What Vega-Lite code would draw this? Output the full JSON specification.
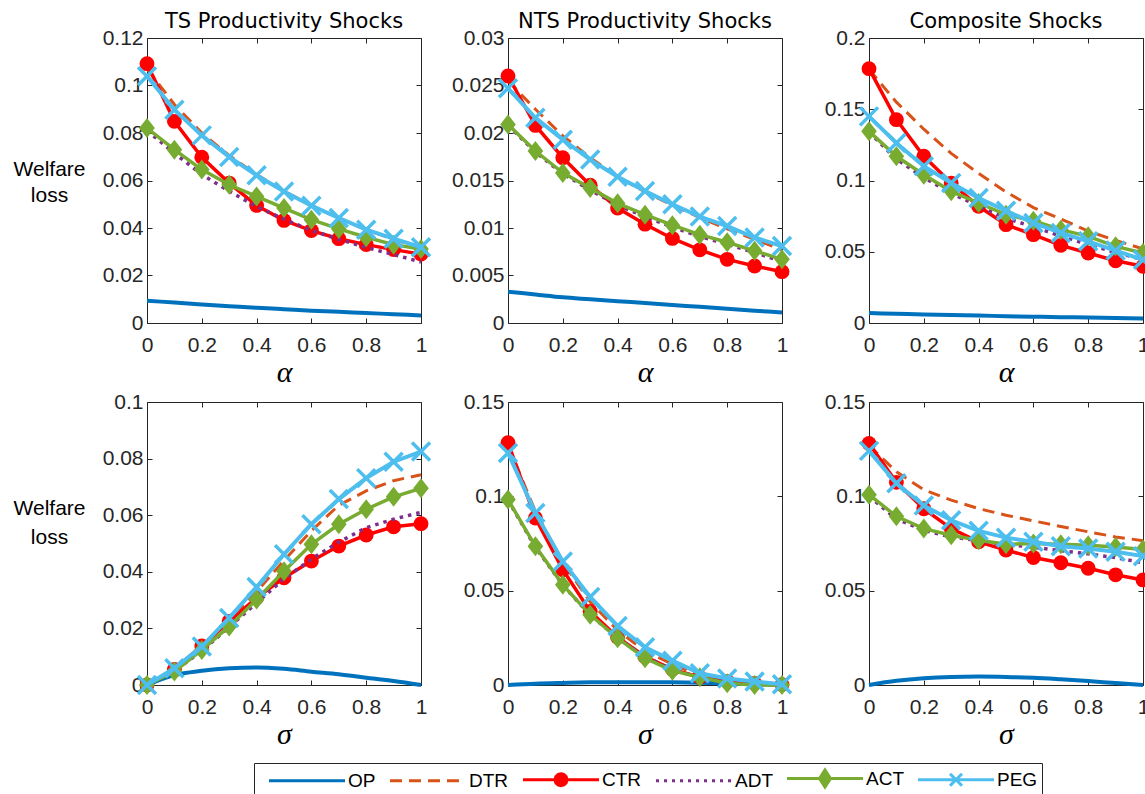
{
"$schema": "https://vega.github.io/schema/vega-lite/v6.json",
"background": "white",
"padding": {"left": 12, "top": 10, "right": 0, "bottom": 0},
"config": {
  "view": {"stroke": "#262626", "strokeWidth": 1},
  "axis": {"domain": false, "grid": false, "tickColor": "#262626", "tickSize": -5, "tickWidth": 1, "labelFont": "Liberation Sans", "labelFontSize": 21, "labelColor": "#262626", "labelFlush": false, "labelOverlap": false, "format": ".3~g", "titleFontWeight": "normal", "titleColor": "#000000"},
  "axisX": {"labelPadding": 16.5},
  "axisY": {"labelPadding": 9},
  "title": {"font": "DejaVu Sans", "fontSize": 21, "fontWeight": "normal", "color": "#000000", "baseline": "alphabetic", "offset": -5, "anchor": "middle", "frame": "group"},
  "legend": {"labelFont": "Liberation Sans", "labelFontSize": 19, "labelColor": "#000000", "symbolSize": 400, "symbolStrokeWidth": 3, "labelOffset": 67, "columnPadding": 3, "padding": 4, "strokeColor": "#262626", "fillColor": "white"}
},
"data": {"values": [
{"p":"p1","s":"OP","x":0,"y":0.0094},{"p":"p1","s":"OP","x":0.1,"y":0.0086},{"p":"p1","s":"OP","x":0.2,"y":0.0078},{"p":"p1","s":"OP","x":0.3,"y":0.0071},{"p":"p1","s":"OP","x":0.4,"y":0.0064},{"p":"p1","s":"OP","x":0.5,"y":0.0058},{"p":"p1","s":"OP","x":0.6,"y":0.0052},{"p":"p1","s":"OP","x":0.7,"y":0.0047},{"p":"p1","s":"OP","x":0.8,"y":0.0042},{"p":"p1","s":"OP","x":0.9,"y":0.0037},{"p":"p1","s":"OP","x":1,"y":0.0032},
{"p":"p1","s":"DTR","x":0,"y":0.107},{"p":"p1","s":"DTR","x":0.1,"y":0.092},{"p":"p1","s":"DTR","x":0.2,"y":0.08},{"p":"p1","s":"DTR","x":0.3,"y":0.0705},{"p":"p1","s":"DTR","x":0.4,"y":0.0625},{"p":"p1","s":"DTR","x":0.5,"y":0.0555},{"p":"p1","s":"DTR","x":0.6,"y":0.0495},{"p":"p1","s":"DTR","x":0.7,"y":0.0442},{"p":"p1","s":"DTR","x":0.8,"y":0.0393},{"p":"p1","s":"DTR","x":0.9,"y":0.0353},{"p":"p1","s":"DTR","x":1,"y":0.0316},
{"p":"p1","s":"CTR","x":0,"y":0.1092},{"p":"p1","s":"CTR","x":0.1,"y":0.0849},{"p":"p1","s":"CTR","x":0.2,"y":0.0698},{"p":"p1","s":"CTR","x":0.3,"y":0.0589},{"p":"p1","s":"CTR","x":0.4,"y":0.0495},{"p":"p1","s":"CTR","x":0.5,"y":0.0432},{"p":"p1","s":"CTR","x":0.6,"y":0.0389},{"p":"p1","s":"CTR","x":0.7,"y":0.0355},{"p":"p1","s":"CTR","x":0.8,"y":0.033},{"p":"p1","s":"CTR","x":0.9,"y":0.0309},{"p":"p1","s":"CTR","x":1,"y":0.029},
{"p":"p1","s":"ADT","x":0,"y":0.081},{"p":"p1","s":"ADT","x":0.1,"y":0.0715},{"p":"p1","s":"ADT","x":0.2,"y":0.0625},{"p":"p1","s":"ADT","x":0.3,"y":0.0555},{"p":"p1","s":"ADT","x":0.4,"y":0.049},{"p":"p1","s":"ADT","x":0.5,"y":0.0437},{"p":"p1","s":"ADT","x":0.6,"y":0.039},{"p":"p1","s":"ADT","x":0.7,"y":0.0352},{"p":"p1","s":"ADT","x":0.8,"y":0.0318},{"p":"p1","s":"ADT","x":0.9,"y":0.0288},{"p":"p1","s":"ADT","x":1,"y":0.0257},
{"p":"p1","s":"ACT","x":0,"y":0.0821},{"p":"p1","s":"ACT","x":0.1,"y":0.073},{"p":"p1","s":"ACT","x":0.2,"y":0.0646},{"p":"p1","s":"ACT","x":0.3,"y":0.0582},{"p":"p1","s":"ACT","x":0.4,"y":0.0533},{"p":"p1","s":"ACT","x":0.5,"y":0.0484},{"p":"p1","s":"ACT","x":0.6,"y":0.0435},{"p":"p1","s":"ACT","x":0.7,"y":0.0396},{"p":"p1","s":"ACT","x":0.8,"y":0.0361},{"p":"p1","s":"ACT","x":0.9,"y":0.033},{"p":"p1","s":"ACT","x":1,"y":0.0312},
{"p":"p1","s":"PEG","x":0,"y":0.1039},{"p":"p1","s":"PEG","x":0.1,"y":0.0898},{"p":"p1","s":"PEG","x":0.2,"y":0.079},{"p":"p1","s":"PEG","x":0.3,"y":0.0699},{"p":"p1","s":"PEG","x":0.4,"y":0.0622},{"p":"p1","s":"PEG","x":0.5,"y":0.0554},{"p":"p1","s":"PEG","x":0.6,"y":0.0494},{"p":"p1","s":"PEG","x":0.7,"y":0.0442},{"p":"p1","s":"PEG","x":0.8,"y":0.0393},{"p":"p1","s":"PEG","x":0.9,"y":0.0355},{"p":"p1","s":"PEG","x":1,"y":0.0319},
{"p":"p2","s":"OP","x":0,"y":0.0033},{"p":"p2","s":"OP","x":0.1,"y":0.003},{"p":"p2","s":"OP","x":0.2,"y":0.0027},{"p":"p2","s":"OP","x":0.3,"y":0.0025},{"p":"p2","s":"OP","x":0.4,"y":0.0023},{"p":"p2","s":"OP","x":0.5,"y":0.0021},{"p":"p2","s":"OP","x":0.6,"y":0.0019},{"p":"p2","s":"OP","x":0.7,"y":0.0017},{"p":"p2","s":"OP","x":0.8,"y":0.0015},{"p":"p2","s":"OP","x":0.9,"y":0.0013},{"p":"p2","s":"OP","x":1,"y":0.0011},
{"p":"p2","s":"DTR","x":0,"y":0.0255},{"p":"p2","s":"DTR","x":0.1,"y":0.0225},{"p":"p2","s":"DTR","x":0.2,"y":0.0197},{"p":"p2","s":"DTR","x":0.3,"y":0.0174},{"p":"p2","s":"DTR","x":0.4,"y":0.0154},{"p":"p2","s":"DTR","x":0.5,"y":0.0138},{"p":"p2","s":"DTR","x":0.6,"y":0.0124},{"p":"p2","s":"DTR","x":0.7,"y":0.0111},{"p":"p2","s":"DTR","x":0.8,"y":0.0099},{"p":"p2","s":"DTR","x":0.9,"y":0.0088},{"p":"p2","s":"DTR","x":1,"y":0.0077},
{"p":"p2","s":"CTR","x":0,"y":0.026},{"p":"p2","s":"CTR","x":0.1,"y":0.0208},{"p":"p2","s":"CTR","x":0.2,"y":0.0174},{"p":"p2","s":"CTR","x":0.3,"y":0.0145},{"p":"p2","s":"CTR","x":0.4,"y":0.0121},{"p":"p2","s":"CTR","x":0.5,"y":0.0104},{"p":"p2","s":"CTR","x":0.6,"y":0.0089},{"p":"p2","s":"CTR","x":0.7,"y":0.0077},{"p":"p2","s":"CTR","x":0.8,"y":0.0067},{"p":"p2","s":"CTR","x":0.9,"y":0.006},{"p":"p2","s":"CTR","x":1,"y":0.0054},
{"p":"p2","s":"ADT","x":0,"y":0.0208},{"p":"p2","s":"ADT","x":0.1,"y":0.018},{"p":"p2","s":"ADT","x":0.2,"y":0.0157},{"p":"p2","s":"ADT","x":0.3,"y":0.014},{"p":"p2","s":"ADT","x":0.4,"y":0.0124},{"p":"p2","s":"ADT","x":0.5,"y":0.0112},{"p":"p2","s":"ADT","x":0.6,"y":0.0101},{"p":"p2","s":"ADT","x":0.7,"y":0.0091},{"p":"p2","s":"ADT","x":0.8,"y":0.0083},{"p":"p2","s":"ADT","x":0.9,"y":0.0074},{"p":"p2","s":"ADT","x":1,"y":0.0065},
{"p":"p2","s":"ACT","x":0,"y":0.0209},{"p":"p2","s":"ACT","x":0.1,"y":0.0181},{"p":"p2","s":"ACT","x":0.2,"y":0.0158},{"p":"p2","s":"ACT","x":0.3,"y":0.0142},{"p":"p2","s":"ACT","x":0.4,"y":0.0126},{"p":"p2","s":"ACT","x":0.5,"y":0.0114},{"p":"p2","s":"ACT","x":0.6,"y":0.0103},{"p":"p2","s":"ACT","x":0.7,"y":0.0093},{"p":"p2","s":"ACT","x":0.8,"y":0.0085},{"p":"p2","s":"ACT","x":0.9,"y":0.0076},{"p":"p2","s":"ACT","x":1,"y":0.0067},
{"p":"p2","s":"PEG","x":0,"y":0.0247},{"p":"p2","s":"PEG","x":0.1,"y":0.0216},{"p":"p2","s":"PEG","x":0.2,"y":0.0193},{"p":"p2","s":"PEG","x":0.3,"y":0.0172},{"p":"p2","s":"PEG","x":0.4,"y":0.0154},{"p":"p2","s":"PEG","x":0.5,"y":0.0139},{"p":"p2","s":"PEG","x":0.6,"y":0.0125},{"p":"p2","s":"PEG","x":0.7,"y":0.0112},{"p":"p2","s":"PEG","x":0.8,"y":0.0102},{"p":"p2","s":"PEG","x":0.9,"y":0.009},{"p":"p2","s":"PEG","x":1,"y":0.0081},
{"p":"p3","s":"OP","x":0,"y":0.007},{"p":"p3","s":"OP","x":0.1,"y":0.0065},{"p":"p3","s":"OP","x":0.2,"y":0.006},{"p":"p3","s":"OP","x":0.3,"y":0.0056},{"p":"p3","s":"OP","x":0.4,"y":0.0052},{"p":"p3","s":"OP","x":0.5,"y":0.0048},{"p":"p3","s":"OP","x":0.6,"y":0.0044},{"p":"p3","s":"OP","x":0.7,"y":0.0041},{"p":"p3","s":"OP","x":0.8,"y":0.0038},{"p":"p3","s":"OP","x":0.9,"y":0.0035},{"p":"p3","s":"OP","x":1,"y":0.0032},
{"p":"p3","s":"DTR","x":0,"y":0.178},{"p":"p3","s":"DTR","x":0.1,"y":0.155},{"p":"p3","s":"DTR","x":0.2,"y":0.136},{"p":"p3","s":"DTR","x":0.3,"y":0.119},{"p":"p3","s":"DTR","x":0.4,"y":0.105},{"p":"p3","s":"DTR","x":0.5,"y":0.092},{"p":"p3","s":"DTR","x":0.6,"y":0.081},{"p":"p3","s":"DTR","x":0.7,"y":0.073},{"p":"p3","s":"DTR","x":0.8,"y":0.0645},{"p":"p3","s":"DTR","x":0.9,"y":0.058},{"p":"p3","s":"DTR","x":1,"y":0.052},
{"p":"p3","s":"CTR","x":0,"y":0.1785},{"p":"p3","s":"CTR","x":0.1,"y":0.1427},{"p":"p3","s":"CTR","x":0.2,"y":0.117},{"p":"p3","s":"CTR","x":0.3,"y":0.0982},{"p":"p3","s":"CTR","x":0.4,"y":0.0819},{"p":"p3","s":"CTR","x":0.5,"y":0.069},{"p":"p3","s":"CTR","x":0.6,"y":0.062},{"p":"p3","s":"CTR","x":0.7,"y":0.0545},{"p":"p3","s":"CTR","x":0.8,"y":0.0491},{"p":"p3","s":"CTR","x":0.9,"y":0.0437},{"p":"p3","s":"CTR","x":1,"y":0.0398},
{"p":"p3","s":"ADT","x":0,"y":0.134},{"p":"p3","s":"ADT","x":0.1,"y":0.115},{"p":"p3","s":"ADT","x":0.2,"y":0.102},{"p":"p3","s":"ADT","x":0.3,"y":0.091},{"p":"p3","s":"ADT","x":0.4,"y":0.082},{"p":"p3","s":"ADT","x":0.5,"y":0.0735},{"p":"p3","s":"ADT","x":0.6,"y":0.0675},{"p":"p3","s":"ADT","x":0.7,"y":0.061},{"p":"p3","s":"ADT","x":0.8,"y":0.055},{"p":"p3","s":"ADT","x":0.9,"y":0.0495},{"p":"p3","s":"ADT","x":1,"y":0.0445},
{"p":"p3","s":"ACT","x":0,"y":0.1345},{"p":"p3","s":"ACT","x":0.1,"y":0.117},{"p":"p3","s":"ACT","x":0.2,"y":0.104},{"p":"p3","s":"ACT","x":0.3,"y":0.0924},{"p":"p3","s":"ACT","x":0.4,"y":0.0842},{"p":"p3","s":"ACT","x":0.5,"y":0.076},{"p":"p3","s":"ACT","x":0.6,"y":0.0718},{"p":"p3","s":"ACT","x":0.7,"y":0.0655},{"p":"p3","s":"ACT","x":0.8,"y":0.0608},{"p":"p3","s":"ACT","x":0.9,"y":0.0538},{"p":"p3","s":"ACT","x":1,"y":0.0491},
{"p":"p3","s":"PEG","x":0,"y":0.145},{"p":"p3","s":"PEG","x":0.1,"y":0.1263},{"p":"p3","s":"PEG","x":0.2,"y":0.11},{"p":"p3","s":"PEG","x":0.3,"y":0.0982},{"p":"p3","s":"PEG","x":0.4,"y":0.0877},{"p":"p3","s":"PEG","x":0.5,"y":0.0788},{"p":"p3","s":"PEG","x":0.6,"y":0.0702},{"p":"p3","s":"PEG","x":0.7,"y":0.0632},{"p":"p3","s":"PEG","x":0.8,"y":0.0573},{"p":"p3","s":"PEG","x":0.9,"y":0.0508},{"p":"p3","s":"PEG","x":1,"y":0.0444},
{"p":"p4","s":"OP","x":0,"y":0},{"p":"p4","s":"OP","x":0.1,"y":0.0035},{"p":"p4","s":"OP","x":0.2,"y":0.005},{"p":"p4","s":"OP","x":0.3,"y":0.0059},{"p":"p4","s":"OP","x":0.4,"y":0.0062},{"p":"p4","s":"OP","x":0.5,"y":0.0057},{"p":"p4","s":"OP","x":0.6,"y":0.0047},{"p":"p4","s":"OP","x":0.7,"y":0.0038},{"p":"p4","s":"OP","x":0.8,"y":0.0026},{"p":"p4","s":"OP","x":0.9,"y":0.0014},{"p":"p4","s":"OP","x":1,"y":0},
{"p":"p4","s":"DTR","x":0,"y":0},{"p":"p4","s":"DTR","x":0.1,"y":0.0057},{"p":"p4","s":"DTR","x":0.2,"y":0.0133},{"p":"p4","s":"DTR","x":0.3,"y":0.023},{"p":"p4","s":"DTR","x":0.4,"y":0.033},{"p":"p4","s":"DTR","x":0.5,"y":0.044},{"p":"p4","s":"DTR","x":0.6,"y":0.0545},{"p":"p4","s":"DTR","x":0.7,"y":0.0635},{"p":"p4","s":"DTR","x":0.8,"y":0.0686},{"p":"p4","s":"DTR","x":0.9,"y":0.0722},{"p":"p4","s":"DTR","x":1,"y":0.0743},
{"p":"p4","s":"CTR","x":0,"y":0},{"p":"p4","s":"CTR","x":0.1,"y":0.0055},{"p":"p4","s":"CTR","x":0.2,"y":0.0138},{"p":"p4","s":"CTR","x":0.3,"y":0.0225},{"p":"p4","s":"CTR","x":0.4,"y":0.0308},{"p":"p4","s":"CTR","x":0.5,"y":0.0379},{"p":"p4","s":"CTR","x":0.6,"y":0.0438},{"p":"p4","s":"CTR","x":0.7,"y":0.0491},{"p":"p4","s":"CTR","x":0.8,"y":0.053},{"p":"p4","s":"CTR","x":0.9,"y":0.0559},{"p":"p4","s":"CTR","x":1,"y":0.057},
{"p":"p4","s":"ADT","x":0,"y":0},{"p":"p4","s":"ADT","x":0.1,"y":0.005},{"p":"p4","s":"ADT","x":0.2,"y":0.012},{"p":"p4","s":"ADT","x":0.3,"y":0.0205},{"p":"p4","s":"ADT","x":0.4,"y":0.029},{"p":"p4","s":"ADT","x":0.5,"y":0.0375},{"p":"p4","s":"ADT","x":0.6,"y":0.0445},{"p":"p4","s":"ADT","x":0.7,"y":0.0505},{"p":"p4","s":"ADT","x":0.8,"y":0.0556},{"p":"p4","s":"ADT","x":0.9,"y":0.0586},{"p":"p4","s":"ADT","x":1,"y":0.061},
{"p":"p4","s":"ACT","x":0,"y":0},{"p":"p4","s":"ACT","x":0.1,"y":0.0048},{"p":"p4","s":"ACT","x":0.2,"y":0.0124},{"p":"p4","s":"ACT","x":0.3,"y":0.0207},{"p":"p4","s":"ACT","x":0.4,"y":0.0302},{"p":"p4","s":"ACT","x":0.5,"y":0.0402},{"p":"p4","s":"ACT","x":0.6,"y":0.0497},{"p":"p4","s":"ACT","x":0.7,"y":0.0568},{"p":"p4","s":"ACT","x":0.8,"y":0.0621},{"p":"p4","s":"ACT","x":0.9,"y":0.0665},{"p":"p4","s":"ACT","x":1,"y":0.0695},
{"p":"p4","s":"PEG","x":0,"y":0},{"p":"p4","s":"PEG","x":0.1,"y":0.0059},{"p":"p4","s":"PEG","x":0.2,"y":0.0136},{"p":"p4","s":"PEG","x":0.3,"y":0.0237},{"p":"p4","s":"PEG","x":0.4,"y":0.0346},{"p":"p4","s":"PEG","x":0.5,"y":0.0462},{"p":"p4","s":"PEG","x":0.6,"y":0.0568},{"p":"p4","s":"PEG","x":0.7,"y":0.0657},{"p":"p4","s":"PEG","x":0.8,"y":0.0731},{"p":"p4","s":"PEG","x":0.9,"y":0.0789},{"p":"p4","s":"PEG","x":1,"y":0.0825},
{"p":"p5","s":"OP","x":0,"y":0},{"p":"p5","s":"OP","x":0.1,"y":0.0007},{"p":"p5","s":"OP","x":0.2,"y":0.0011},{"p":"p5","s":"OP","x":0.3,"y":0.0014},{"p":"p5","s":"OP","x":0.4,"y":0.0015},{"p":"p5","s":"OP","x":0.5,"y":0.0015},{"p":"p5","s":"OP","x":0.6,"y":0.0014},{"p":"p5","s":"OP","x":0.7,"y":0.0012},{"p":"p5","s":"OP","x":0.8,"y":0.0008},{"p":"p5","s":"OP","x":0.9,"y":0.0004},{"p":"p5","s":"OP","x":1,"y":0},
{"p":"p5","s":"DTR","x":0,"y":0.127},{"p":"p5","s":"DTR","x":0.1,"y":0.092},{"p":"p5","s":"DTR","x":0.2,"y":0.065},{"p":"p5","s":"DTR","x":0.3,"y":0.044},{"p":"p5","s":"DTR","x":0.4,"y":0.029},{"p":"p5","s":"DTR","x":0.5,"y":0.018},{"p":"p5","s":"DTR","x":0.6,"y":0.011},{"p":"p5","s":"DTR","x":0.7,"y":0.005},{"p":"p5","s":"DTR","x":0.8,"y":0.0025},{"p":"p5","s":"DTR","x":0.9,"y":0.001},{"p":"p5","s":"DTR","x":1,"y":0.0003},
{"p":"p5","s":"CTR","x":0,"y":0.1284},{"p":"p5","s":"CTR","x":0.1,"y":0.0885},{"p":"p5","s":"CTR","x":0.2,"y":0.0611},{"p":"p5","s":"CTR","x":0.3,"y":0.039},{"p":"p5","s":"CTR","x":0.4,"y":0.0253},{"p":"p5","s":"CTR","x":0.5,"y":0.015},{"p":"p5","s":"CTR","x":0.6,"y":0.0083},{"p":"p5","s":"CTR","x":0.7,"y":0.0041},{"p":"p5","s":"CTR","x":0.8,"y":0.0018},{"p":"p5","s":"CTR","x":0.9,"y":0.0009},{"p":"p5","s":"CTR","x":1,"y":0.0002},
{"p":"p5","s":"ADT","x":0,"y":0.098},{"p":"p5","s":"ADT","x":0.1,"y":0.073},{"p":"p5","s":"ADT","x":0.2,"y":0.053},{"p":"p5","s":"ADT","x":0.3,"y":0.037},{"p":"p5","s":"ADT","x":0.4,"y":0.025},{"p":"p5","s":"ADT","x":0.5,"y":0.015},{"p":"p5","s":"ADT","x":0.6,"y":0.008},{"p":"p5","s":"ADT","x":0.7,"y":0.004},{"p":"p5","s":"ADT","x":0.8,"y":0.0015},{"p":"p5","s":"ADT","x":0.9,"y":0.0005},{"p":"p5","s":"ADT","x":1,"y":0},
{"p":"p5","s":"ACT","x":0,"y":0.0983},{"p":"p5","s":"ACT","x":0.1,"y":0.0735},{"p":"p5","s":"ACT","x":0.2,"y":0.0531},{"p":"p5","s":"ACT","x":0.3,"y":0.0372},{"p":"p5","s":"ACT","x":0.4,"y":0.0248},{"p":"p5","s":"ACT","x":0.5,"y":0.0142},{"p":"p5","s":"ACT","x":0.6,"y":0.0076},{"p":"p5","s":"ACT","x":0.7,"y":0.0041},{"p":"p5","s":"ACT","x":0.8,"y":0.0009},{"p":"p5","s":"ACT","x":0.9,"y":0},{"p":"p5","s":"ACT","x":1,"y":0},
{"p":"p5","s":"PEG","x":0,"y":0.123},{"p":"p5","s":"PEG","x":0.1,"y":0.0912},{"p":"p5","s":"PEG","x":0.2,"y":0.0655},{"p":"p5","s":"PEG","x":0.3,"y":0.0466},{"p":"p5","s":"PEG","x":0.4,"y":0.0313},{"p":"p5","s":"PEG","x":0.5,"y":0.02},{"p":"p5","s":"PEG","x":0.6,"y":0.0129},{"p":"p5","s":"PEG","x":0.7,"y":0.0062},{"p":"p5","s":"PEG","x":0.8,"y":0.0035},{"p":"p5","s":"PEG","x":0.9,"y":0.0018},{"p":"p5","s":"PEG","x":1,"y":0.0004},
{"p":"p6","s":"OP","x":0,"y":0},{"p":"p6","s":"OP","x":0.1,"y":0.0022},{"p":"p6","s":"OP","x":0.2,"y":0.0036},{"p":"p6","s":"OP","x":0.3,"y":0.0043},{"p":"p6","s":"OP","x":0.4,"y":0.0045},{"p":"p6","s":"OP","x":0.5,"y":0.0043},{"p":"p6","s":"OP","x":0.6,"y":0.0038},{"p":"p6","s":"OP","x":0.7,"y":0.003},{"p":"p6","s":"OP","x":0.8,"y":0.0021},{"p":"p6","s":"OP","x":0.9,"y":0.001},{"p":"p6","s":"OP","x":1,"y":0},
{"p":"p6","s":"DTR","x":0,"y":0.127},{"p":"p6","s":"DTR","x":0.1,"y":0.113},{"p":"p6","s":"DTR","x":0.2,"y":0.1035},{"p":"p6","s":"DTR","x":0.3,"y":0.098},{"p":"p6","s":"DTR","x":0.4,"y":0.0935},{"p":"p6","s":"DTR","x":0.5,"y":0.09},{"p":"p6","s":"DTR","x":0.6,"y":0.087},{"p":"p6","s":"DTR","x":0.7,"y":0.084},{"p":"p6","s":"DTR","x":0.8,"y":0.0812},{"p":"p6","s":"DTR","x":0.9,"y":0.0785},{"p":"p6","s":"DTR","x":1,"y":0.0765},
{"p":"p6","s":"CTR","x":0,"y":0.128},{"p":"p6","s":"CTR","x":0.1,"y":0.1074},{"p":"p6","s":"CTR","x":0.2,"y":0.0934},{"p":"p6","s":"CTR","x":0.3,"y":0.0829},{"p":"p6","s":"CTR","x":0.4,"y":0.0759},{"p":"p6","s":"CTR","x":0.5,"y":0.0715},{"p":"p6","s":"CTR","x":0.6,"y":0.0676},{"p":"p6","s":"CTR","x":0.7,"y":0.0648},{"p":"p6","s":"CTR","x":0.8,"y":0.0619},{"p":"p6","s":"CTR","x":0.9,"y":0.0584},{"p":"p6","s":"CTR","x":1,"y":0.0557},
{"p":"p6","s":"ADT","x":0,"y":0.1},{"p":"p6","s":"ADT","x":0.1,"y":0.088},{"p":"p6","s":"ADT","x":0.2,"y":0.082},{"p":"p6","s":"ADT","x":0.3,"y":0.0785},{"p":"p6","s":"ADT","x":0.4,"y":0.0765},{"p":"p6","s":"ADT","x":0.5,"y":0.0745},{"p":"p6","s":"ADT","x":0.6,"y":0.073},{"p":"p6","s":"ADT","x":0.7,"y":0.0712},{"p":"p6","s":"ADT","x":0.8,"y":0.0695},{"p":"p6","s":"ADT","x":0.9,"y":0.0675},{"p":"p6","s":"ADT","x":1,"y":0.0648},
{"p":"p6","s":"ACT","x":0,"y":0.1009},{"p":"p6","s":"ACT","x":0.1,"y":0.0894},{"p":"p6","s":"ACT","x":0.2,"y":0.0829},{"p":"p6","s":"ACT","x":0.3,"y":0.0794},{"p":"p6","s":"ACT","x":0.4,"y":0.0767},{"p":"p6","s":"ACT","x":0.5,"y":0.0746},{"p":"p6","s":"ACT","x":0.6,"y":0.075},{"p":"p6","s":"ACT","x":0.7,"y":0.0746},{"p":"p6","s":"ACT","x":0.8,"y":0.0741},{"p":"p6","s":"ACT","x":0.9,"y":0.0732},{"p":"p6","s":"ACT","x":1,"y":0.0718},
{"p":"p6","s":"PEG","x":0,"y":0.1241},{"p":"p6","s":"PEG","x":0.1,"y":0.1069},{"p":"p6","s":"PEG","x":0.2,"y":0.0951},{"p":"p6","s":"PEG","x":0.3,"y":0.0873},{"p":"p6","s":"PEG","x":0.4,"y":0.0817},{"p":"p6","s":"PEG","x":0.5,"y":0.0781},{"p":"p6","s":"PEG","x":0.6,"y":0.0759},{"p":"p6","s":"PEG","x":0.7,"y":0.0736},{"p":"p6","s":"PEG","x":0.8,"y":0.0724},{"p":"p6","s":"PEG","x":0.9,"y":0.0706},{"p":"p6","s":"PEG","x":1,"y":0.0683}
]},
"columns": 3,
"spacing": {"row": 79, "column": 87},
"bounds": "flush",
"concat": [
{
 "width": 274, "height": 285,
 "title": "TS Productivity Shocks",
 "transform": [{"filter": "datum.p == 'p1'"}],
 "encoding": {
  "x": {"field": "x", "type": "quantitative", "scale": {"domain": [0, 1], "nice": false}, "axis": null},
  "y": {"field": "y", "type": "quantitative", "scale": {"domain": [0, 0.12], "nice": false}, "axis": null}
 },
 "layer": [
  {"transform": [{"filter": "datum.s == 'OP'"}], "mark": {"type": "line", "color": "#0072BD", "strokeWidth": 4, "interpolate": "monotone"},
   "encoding": {
    "x": {"field": "x", "type": "quantitative", "scale": {"domain": [0, 1], "nice": false}, "axis": {"orient": "bottom", "values": [0, 0.2, 0.4, 0.6, 0.8, 1], "title": "α", "titleY": 58, "titleBaseline": "alphabetic", "titleFont": "Liberation Serif", "titleFontStyle": "italic", "titleFontSize": 30}},
    "y": {"field": "y", "type": "quantitative", "scale": {"domain": [0, 0.12], "nice": false}, "axis": {"orient": "left", "values": [0, 0.02, 0.04, 0.06, 0.08, 0.1, 0.12], "title": ["Welfare", "loss"], "titleAngle": 0, "titleX": -98, "titleY": 131, "titleAlign": "center", "titleBaseline": "middle", "titleFont": "Liberation Sans", "titleFontSize": 21, "titleLineHeight": 26}}
   }},
  {"transform": [{"filter": "datum.s == 'DTR'"}], "mark": {"type": "line", "color": "#D95319", "strokeWidth": 3, "strokeDash": [12, 7]}},
  {"transform": [{"filter": "datum.s == 'CTR'"}], "mark": {"type": "line", "color": "#FF0000", "strokeWidth": 3.5}},
  {"transform": [{"filter": "datum.s == 'CTR'"}], "mark": {"type": "point", "shape": "circle", "filled": true, "color": "#FF0000", "size": 220, "opacity": 1}},
  {"transform": [{"filter": "datum.s == 'ADT'"}], "mark": {"type": "line", "color": "#7E2F8E", "strokeWidth": 3.5, "strokeDash": [3.5, 5]}},
  {"transform": [{"filter": "datum.s == 'ACT'"}], "mark": {"type": "line", "color": "#77AC30", "strokeWidth": 3.5}},
  {"transform": [{"filter": "datum.s == 'ACT'"}], "mark": {"type": "point", "shape": "M0,-1L0.78,0L0,1L-0.78,0Z", "filled": true, "color": "#77AC30", "size": 400, "opacity": 1}},
  {"transform": [{"filter": "datum.s == 'PEG'"}], "mark": {"type": "line", "color": "#4DBEEE", "strokeWidth": 4}},
  {"transform": [{"filter": "datum.s == 'PEG'"}], "mark": {"type": "point", "shape": "M-1,-1L1,1M-1,1L1,-1", "filled": false, "color": "#4DBEEE", "size": 324, "strokeWidth": 3.5, "opacity": 1}},
  {"transform": [{"filter": "false"}], "mark": {"type": "point", "filled": false, "strokeWidth": 3, "opacity": 1},
   "encoding": {
    "x": {"field": "x", "type": "quantitative", "scale": {"domain": [0, 1], "nice": false}, "axis": {"orient": "top", "values": [0, 0.2, 0.4, 0.6, 0.8, 1], "labels": false, "title": null}},
    "y": {"field": "y", "type": "quantitative", "scale": {"domain": [0, 0.12], "nice": false}, "axis": {"orient": "right", "values": [0, 0.02, 0.04, 0.06, 0.08, 0.1, 0.12], "labels": false, "title": null}},
    "stroke": {"field": "s", "type": "nominal", "scale": {"domain": ["OP", "DTR", "CTR", "ADT", "ACT", "PEG"], "range": ["#0072BD", "#D95319", "#FF0000", "#7E2F8E", "#77AC30", "#4DBEEE"]}, "legend": {"title": null, "orient": "none", "legendX": 107, "legendY": 725, "direction": "horizontal"}},
    "strokeDash": {"field": "s", "type": "nominal", "scale": {"domain": ["OP", "DTR", "CTR", "ADT", "ACT", "PEG"], "range": [[1, 0], [12, 7], [1, 0], [3, 5], [1, 0], [1, 0]]}, "legend": {"title": null, "orient": "none", "legendX": 107, "legendY": 725, "direction": "horizontal"}},
    "shape": {"field": "s", "type": "nominal", "scale": {"domain": ["OP", "DTR", "CTR", "ADT", "ACT", "PEG"], "range": ["M-0.05,0L7.55,0", "M-0.05,0L7.55,0", "M-0.05,0L7.55,0M4.35,0L4.27,0.3L4.05,0.52L3.75,0.6L3.45,0.52L3.23,0.3L3.15,0L3.23,-0.3L3.45,-0.52L3.75,-0.6L4.05,-0.52L4.27,-0.3ZM4.1,0L4.05,0.18L3.93,0.3L3.75,0.35L3.57,0.3L3.45,0.18L3.4,0L3.45,-0.18L3.57,-0.3L3.75,-0.35L3.93,-0.3L4.05,-0.18ZM3.87,0L3.75,0.12L3.63,0L3.75,-0.12Z", "M-0.05,0L7.55,0", "M-0.05,0L7.55,0M3.75,-0.85L4.3,0L3.75,0.85L3.2,0ZM3.75,-0.5L4.05,0L3.75,0.5L3.45,0ZM3.75,-0.2L3.85,0L3.75,0.2L3.65,0Z", "M-0.05,0L7.55,0M3.15,-0.6L4.35,0.6M3.15,0.6L4.35,-0.6"]}, "legend": {"title": null, "orient": "none", "legendX": 107, "legendY": 725, "direction": "horizontal"}}
   }}
 ],
 "resolve": {"axis": {"x": "independent", "y": "independent"}}
},
{
 "width": 274, "height": 285,
 "title": "NTS Productivity Shocks",
 "transform": [{"filter": "datum.p == 'p2'"}],
 "encoding": {
  "x": {"field": "x", "type": "quantitative", "scale": {"domain": [0, 1], "nice": false}, "axis": null},
  "y": {"field": "y", "type": "quantitative", "scale": {"domain": [0, 0.03], "nice": false}, "axis": null}
 },
 "layer": [
  {"transform": [{"filter": "datum.s == 'OP'"}], "mark": {"type": "line", "color": "#0072BD", "strokeWidth": 4, "interpolate": "monotone"},
   "encoding": {
    "x": {"field": "x", "type": "quantitative", "scale": {"domain": [0, 1], "nice": false}, "axis": {"orient": "bottom", "values": [0, 0.2, 0.4, 0.6, 0.8, 1], "title": "α", "titleY": 58, "titleBaseline": "alphabetic", "titleFont": "Liberation Serif", "titleFontStyle": "italic", "titleFontSize": 30}},
    "y": {"field": "y", "type": "quantitative", "scale": {"domain": [0, 0.03], "nice": false}, "axis": {"orient": "left", "values": [0, 0.005, 0.01, 0.015, 0.02, 0.025, 0.03], "title": null}}
   }},
  {"transform": [{"filter": "datum.s == 'DTR'"}], "mark": {"type": "line", "color": "#D95319", "strokeWidth": 3, "strokeDash": [12, 7]}},
  {"transform": [{"filter": "datum.s == 'CTR'"}], "mark": {"type": "line", "color": "#FF0000", "strokeWidth": 3.5}},
  {"transform": [{"filter": "datum.s == 'CTR'"}], "mark": {"type": "point", "shape": "circle", "filled": true, "color": "#FF0000", "size": 220, "opacity": 1}},
  {"transform": [{"filter": "datum.s == 'ADT'"}], "mark": {"type": "line", "color": "#7E2F8E", "strokeWidth": 3.5, "strokeDash": [3.5, 5]}},
  {"transform": [{"filter": "datum.s == 'ACT'"}], "mark": {"type": "line", "color": "#77AC30", "strokeWidth": 3.5}},
  {"transform": [{"filter": "datum.s == 'ACT'"}], "mark": {"type": "point", "shape": "M0,-1L0.78,0L0,1L-0.78,0Z", "filled": true, "color": "#77AC30", "size": 400, "opacity": 1}},
  {"transform": [{"filter": "datum.s == 'PEG'"}], "mark": {"type": "line", "color": "#4DBEEE", "strokeWidth": 4}},
  {"transform": [{"filter": "datum.s == 'PEG'"}], "mark": {"type": "point", "shape": "M-1,-1L1,1M-1,1L1,-1", "filled": false, "color": "#4DBEEE", "size": 324, "strokeWidth": 3.5, "opacity": 1}},
  {"transform": [{"filter": "false"}], "mark": {"type": "point", "filled": false},
   "encoding": {
    "x": {"field": "x", "type": "quantitative", "scale": {"domain": [0, 1], "nice": false}, "axis": {"orient": "top", "values": [0, 0.2, 0.4, 0.6, 0.8, 1], "labels": false, "title": null}},
    "y": {"field": "y", "type": "quantitative", "scale": {"domain": [0, 0.03], "nice": false}, "axis": {"orient": "right", "values": [0, 0.005, 0.01, 0.015, 0.02, 0.025, 0.03], "labels": false, "title": null}}
   }}
 ],
 "resolve": {"axis": {"x": "independent", "y": "independent"}}
},
{
 "width": 274, "height": 285,
 "title": "Composite Shocks",
 "transform": [{"filter": "datum.p == 'p3'"}],
 "encoding": {
  "x": {"field": "x", "type": "quantitative", "scale": {"domain": [0, 1], "nice": false}, "axis": null},
  "y": {"field": "y", "type": "quantitative", "scale": {"domain": [0, 0.2], "nice": false}, "axis": null}
 },
 "layer": [
  {"transform": [{"filter": "datum.s == 'OP'"}], "mark": {"type": "line", "color": "#0072BD", "strokeWidth": 4, "interpolate": "monotone"},
   "encoding": {
    "x": {"field": "x", "type": "quantitative", "scale": {"domain": [0, 1], "nice": false}, "axis": {"orient": "bottom", "values": [0, 0.2, 0.4, 0.6, 0.8, 1], "title": "α", "titleY": 58, "titleBaseline": "alphabetic", "titleFont": "Liberation Serif", "titleFontStyle": "italic", "titleFontSize": 30}},
    "y": {"field": "y", "type": "quantitative", "scale": {"domain": [0, 0.2], "nice": false}, "axis": {"orient": "left", "values": [0, 0.05, 0.1, 0.15, 0.2], "title": null}}
   }},
  {"transform": [{"filter": "datum.s == 'DTR'"}], "mark": {"type": "line", "color": "#D95319", "strokeWidth": 3, "strokeDash": [12, 7]}},
  {"transform": [{"filter": "datum.s == 'CTR'"}], "mark": {"type": "line", "color": "#FF0000", "strokeWidth": 3.5}},
  {"transform": [{"filter": "datum.s == 'CTR'"}], "mark": {"type": "point", "shape": "circle", "filled": true, "color": "#FF0000", "size": 220, "opacity": 1}},
  {"transform": [{"filter": "datum.s == 'ADT'"}], "mark": {"type": "line", "color": "#7E2F8E", "strokeWidth": 3.5, "strokeDash": [3.5, 5]}},
  {"transform": [{"filter": "datum.s == 'ACT'"}], "mark": {"type": "line", "color": "#77AC30", "strokeWidth": 3.5}},
  {"transform": [{"filter": "datum.s == 'ACT'"}], "mark": {"type": "point", "shape": "M0,-1L0.78,0L0,1L-0.78,0Z", "filled": true, "color": "#77AC30", "size": 400, "opacity": 1}},
  {"transform": [{"filter": "datum.s == 'PEG'"}], "mark": {"type": "line", "color": "#4DBEEE", "strokeWidth": 4}},
  {"transform": [{"filter": "datum.s == 'PEG'"}], "mark": {"type": "point", "shape": "M-1,-1L1,1M-1,1L1,-1", "filled": false, "color": "#4DBEEE", "size": 324, "strokeWidth": 3.5, "opacity": 1}},
  {"transform": [{"filter": "false"}], "mark": {"type": "point", "filled": false},
   "encoding": {
    "x": {"field": "x", "type": "quantitative", "scale": {"domain": [0, 1], "nice": false}, "axis": {"orient": "top", "values": [0, 0.2, 0.4, 0.6, 0.8, 1], "labels": false, "title": null}},
    "y": {"field": "y", "type": "quantitative", "scale": {"domain": [0, 0.2], "nice": false}, "axis": {"orient": "right", "values": [0, 0.05, 0.1, 0.15, 0.2], "labels": false, "title": null}}
   }}
 ],
 "resolve": {"axis": {"x": "independent", "y": "independent"}}
},
{
 "width": 274, "height": 283,
 "transform": [{"filter": "datum.p == 'p4'"}],
 "encoding": {
  "x": {"field": "x", "type": "quantitative", "scale": {"domain": [0, 1], "nice": false}, "axis": null},
  "y": {"field": "y", "type": "quantitative", "scale": {"domain": [0, 0.1], "nice": false}, "axis": null}
 },
 "layer": [
  {"transform": [{"filter": "datum.s == 'OP'"}], "mark": {"type": "line", "color": "#0072BD", "strokeWidth": 4, "interpolate": "monotone"},
   "encoding": {
    "x": {"field": "x", "type": "quantitative", "scale": {"domain": [0, 1], "nice": false}, "axis": {"orient": "bottom", "values": [0, 0.2, 0.4, 0.6, 0.8, 1], "title": "σ", "titleY": 58, "titleBaseline": "alphabetic", "titleFont": "Liberation Serif", "titleFontStyle": "italic", "titleFontSize": 30}},
    "y": {"field": "y", "type": "quantitative", "scale": {"domain": [0, 0.1], "nice": false}, "axis": {"orient": "left", "values": [0, 0.02, 0.04, 0.06, 0.08, 0.1], "title": ["Welfare", "loss"], "titleAngle": 0, "titleX": -98, "titleY": 106, "titleAlign": "center", "titleBaseline": "middle", "titleFont": "Liberation Sans", "titleFontSize": 21, "titleLineHeight": 29}}
   }},
  {"transform": [{"filter": "datum.s == 'DTR'"}], "mark": {"type": "line", "color": "#D95319", "strokeWidth": 3, "strokeDash": [12, 7]}},
  {"transform": [{"filter": "datum.s == 'CTR'"}], "mark": {"type": "line", "color": "#FF0000", "strokeWidth": 3.5}},
  {"transform": [{"filter": "datum.s == 'CTR'"}], "mark": {"type": "point", "shape": "circle", "filled": true, "color": "#FF0000", "size": 220, "opacity": 1}},
  {"transform": [{"filter": "datum.s == 'ADT'"}], "mark": {"type": "line", "color": "#7E2F8E", "strokeWidth": 3.5, "strokeDash": [3.5, 5]}},
  {"transform": [{"filter": "datum.s == 'ACT'"}], "mark": {"type": "line", "color": "#77AC30", "strokeWidth": 3.5}},
  {"transform": [{"filter": "datum.s == 'ACT'"}], "mark": {"type": "point", "shape": "M0,-1L0.78,0L0,1L-0.78,0Z", "filled": true, "color": "#77AC30", "size": 400, "opacity": 1}},
  {"transform": [{"filter": "datum.s == 'PEG'"}], "mark": {"type": "line", "color": "#4DBEEE", "strokeWidth": 4}},
  {"transform": [{"filter": "datum.s == 'PEG'"}], "mark": {"type": "point", "shape": "M-1,-1L1,1M-1,1L1,-1", "filled": false, "color": "#4DBEEE", "size": 324, "strokeWidth": 3.5, "opacity": 1}},
  {"transform": [{"filter": "false"}], "mark": {"type": "point", "filled": false},
   "encoding": {
    "x": {"field": "x", "type": "quantitative", "scale": {"domain": [0, 1], "nice": false}, "axis": {"orient": "top", "values": [0, 0.2, 0.4, 0.6, 0.8, 1], "labels": false, "title": null}},
    "y": {"field": "y", "type": "quantitative", "scale": {"domain": [0, 0.1], "nice": false}, "axis": {"orient": "right", "values": [0, 0.02, 0.04, 0.06, 0.08, 0.1], "labels": false, "title": null}}
   }}
 ],
 "resolve": {"axis": {"x": "independent", "y": "independent"}}
},
{
 "width": 274, "height": 283,
 "transform": [{"filter": "datum.p == 'p5'"}],
 "encoding": {
  "x": {"field": "x", "type": "quantitative", "scale": {"domain": [0, 1], "nice": false}, "axis": null},
  "y": {"field": "y", "type": "quantitative", "scale": {"domain": [0, 0.15], "nice": false}, "axis": null}
 },
 "layer": [
  {"transform": [{"filter": "datum.s == 'OP'"}], "mark": {"type": "line", "color": "#0072BD", "strokeWidth": 4, "interpolate": "monotone"},
   "encoding": {
    "x": {"field": "x", "type": "quantitative", "scale": {"domain": [0, 1], "nice": false}, "axis": {"orient": "bottom", "values": [0, 0.2, 0.4, 0.6, 0.8, 1], "title": "σ", "titleY": 58, "titleBaseline": "alphabetic", "titleFont": "Liberation Serif", "titleFontStyle": "italic", "titleFontSize": 30}},
    "y": {"field": "y", "type": "quantitative", "scale": {"domain": [0, 0.15], "nice": false}, "axis": {"orient": "left", "values": [0, 0.05, 0.1, 0.15], "title": null}}
   }},
  {"transform": [{"filter": "datum.s == 'DTR'"}], "mark": {"type": "line", "color": "#D95319", "strokeWidth": 3, "strokeDash": [12, 7]}},
  {"transform": [{"filter": "datum.s == 'CTR'"}], "mark": {"type": "line", "color": "#FF0000", "strokeWidth": 3.5}},
  {"transform": [{"filter": "datum.s == 'CTR'"}], "mark": {"type": "point", "shape": "circle", "filled": true, "color": "#FF0000", "size": 220, "opacity": 1}},
  {"transform": [{"filter": "datum.s == 'ADT'"}], "mark": {"type": "line", "color": "#7E2F8E", "strokeWidth": 3.5, "strokeDash": [3.5, 5]}},
  {"transform": [{"filter": "datum.s == 'ACT'"}], "mark": {"type": "line", "color": "#77AC30", "strokeWidth": 3.5}},
  {"transform": [{"filter": "datum.s == 'ACT'"}], "mark": {"type": "point", "shape": "M0,-1L0.78,0L0,1L-0.78,0Z", "filled": true, "color": "#77AC30", "size": 400, "opacity": 1}},
  {"transform": [{"filter": "datum.s == 'PEG'"}], "mark": {"type": "line", "color": "#4DBEEE", "strokeWidth": 4}},
  {"transform": [{"filter": "datum.s == 'PEG'"}], "mark": {"type": "point", "shape": "M-1,-1L1,1M-1,1L1,-1", "filled": false, "color": "#4DBEEE", "size": 324, "strokeWidth": 3.5, "opacity": 1}},
  {"transform": [{"filter": "false"}], "mark": {"type": "point", "filled": false},
   "encoding": {
    "x": {"field": "x", "type": "quantitative", "scale": {"domain": [0, 1], "nice": false}, "axis": {"orient": "top", "values": [0, 0.2, 0.4, 0.6, 0.8, 1], "labels": false, "title": null}},
    "y": {"field": "y", "type": "quantitative", "scale": {"domain": [0, 0.15], "nice": false}, "axis": {"orient": "right", "values": [0, 0.05, 0.1, 0.15], "labels": false, "title": null}}
   }}
 ],
 "resolve": {"axis": {"x": "independent", "y": "independent"}}
},
{
 "width": 274, "height": 283,
 "transform": [{"filter": "datum.p == 'p6'"}],
 "encoding": {
  "x": {"field": "x", "type": "quantitative", "scale": {"domain": [0, 1], "nice": false}, "axis": null},
  "y": {"field": "y", "type": "quantitative", "scale": {"domain": [0, 0.15], "nice": false}, "axis": null}
 },
 "layer": [
  {"transform": [{"filter": "datum.s == 'OP'"}], "mark": {"type": "line", "color": "#0072BD", "strokeWidth": 4, "interpolate": "monotone"},
   "encoding": {
    "x": {"field": "x", "type": "quantitative", "scale": {"domain": [0, 1], "nice": false}, "axis": {"orient": "bottom", "values": [0, 0.2, 0.4, 0.6, 0.8, 1], "title": "σ", "titleY": 58, "titleBaseline": "alphabetic", "titleFont": "Liberation Serif", "titleFontStyle": "italic", "titleFontSize": 30}},
    "y": {"field": "y", "type": "quantitative", "scale": {"domain": [0, 0.15], "nice": false}, "axis": {"orient": "left", "values": [0, 0.05, 0.1, 0.15], "title": null}}
   }},
  {"transform": [{"filter": "datum.s == 'DTR'"}], "mark": {"type": "line", "color": "#D95319", "strokeWidth": 3, "strokeDash": [12, 7]}},
  {"transform": [{"filter": "datum.s == 'CTR'"}], "mark": {"type": "line", "color": "#FF0000", "strokeWidth": 3.5}},
  {"transform": [{"filter": "datum.s == 'CTR'"}], "mark": {"type": "point", "shape": "circle", "filled": true, "color": "#FF0000", "size": 220, "opacity": 1}},
  {"transform": [{"filter": "datum.s == 'ADT'"}], "mark": {"type": "line", "color": "#7E2F8E", "strokeWidth": 3.5, "strokeDash": [3.5, 5]}},
  {"transform": [{"filter": "datum.s == 'ACT'"}], "mark": {"type": "line", "color": "#77AC30", "strokeWidth": 3.5}},
  {"transform": [{"filter": "datum.s == 'ACT'"}], "mark": {"type": "point", "shape": "M0,-1L0.78,0L0,1L-0.78,0Z", "filled": true, "color": "#77AC30", "size": 400, "opacity": 1}},
  {"transform": [{"filter": "datum.s == 'PEG'"}], "mark": {"type": "line", "color": "#4DBEEE", "strokeWidth": 4}},
  {"transform": [{"filter": "datum.s == 'PEG'"}], "mark": {"type": "point", "shape": "M-1,-1L1,1M-1,1L1,-1", "filled": false, "color": "#4DBEEE", "size": 324, "strokeWidth": 3.5, "opacity": 1}},
  {"transform": [{"filter": "false"}], "mark": {"type": "point", "filled": false},
   "encoding": {
    "x": {"field": "x", "type": "quantitative", "scale": {"domain": [0, 1], "nice": false}, "axis": {"orient": "top", "values": [0, 0.2, 0.4, 0.6, 0.8, 1], "labels": false, "title": null}},
    "y": {"field": "y", "type": "quantitative", "scale": {"domain": [0, 0.15], "nice": false}, "axis": {"orient": "right", "values": [0, 0.05, 0.1, 0.15], "labels": false, "title": null}}
   }}
 ],
 "resolve": {"axis": {"x": "independent", "y": "independent"}}
}
]
}
